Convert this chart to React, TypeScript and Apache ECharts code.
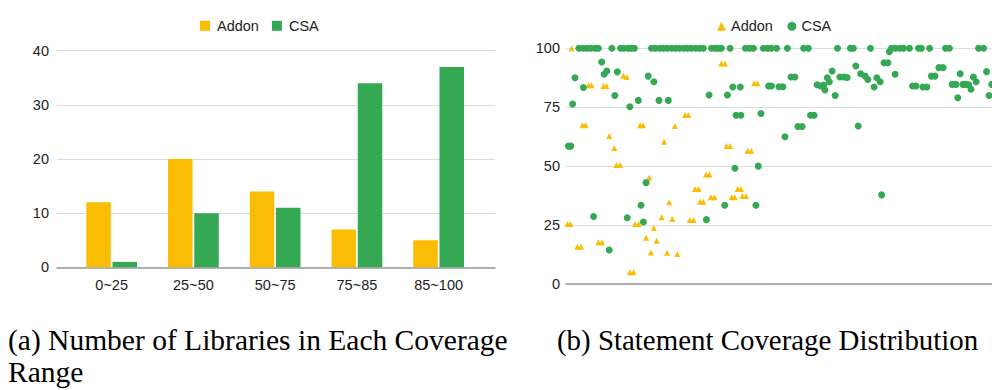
import React, { useEffect, useRef } from 'react';
import * as echarts from 'echarts';

// ---------- (a) bar chart data ----------
const categories = ['0~25', '25~50', '50~75', '75~85', '85~100'];
const addonCounts = [12, 20, 14, 7, 5];
const csaCounts = [1, 10, 11, 34, 37];
const barTicks = [0, 10, 20, 30, 40];

// ---------- (b) scatter data: [library index, statement coverage %] ----------
const addonPoints = [
  [1.9, 100], [7.5, 84.3], [8.5, 84.3], [12.5, 84.0], [13.5, 84.0], [19.1, 88.4], [20.2, 87.8],
  [5.5, 67.3], [6.5, 67.3], [24.7, 67.3], [25.7, 67.3], [36.3, 67.0], [39.7, 71.7], [40.8, 71.7],
  [14.4, 62.8], [16.1, 57.7], [32.7, 60.4], [53.5, 58.5], [54.7, 58.5], [60.5, 56.5], [61.7, 56.5],
  [51.8, 93.6], [53.0, 93.6], [62.7, 85.2], [63.8, 85.2], [16.8, 50.5], [18.0, 50.5], [27.7, 45.1],
  [46.7, 46.5], [47.8, 46.5], [43.0, 40.3], [44.2, 40.3], [57.2, 40.3], [58.3, 40.3], [34.4, 34.7],
  [44.7, 34.9], [45.8, 34.9], [48.3, 36.8], [49.5, 36.8], [55.2, 36.8], [56.3, 36.8], [58.8, 37.3],
  [60.0, 37.3], [0.5, 25.5], [1.5, 25.5], [23.0, 25.5], [24.2, 25.5], [31.9, 28.3], [35.4, 27.6],
  [41.3, 27.2], [42.5, 27.2], [29.3, 23.9], [3.8, 15.8], [5.0, 15.8], [10.8, 17.7], [12.0, 17.7],
  [26.7, 19.6], [30.2, 18.4], [28.3, 13.4], [33.7, 13.3], [37.1, 12.7], [21.3, 5.0], [22.5, 5.0],
];

const csaPoints = [
  // full coverage row
  [4.3, 100], [5.7, 100], [7.0, 100], [8.3, 100], [9.7, 100], [10.8, 100], [15.3, 100],
  [18.2, 100], [19.3, 100], [20.7, 100], [21.7, 100], [22.8, 100], [28.5, 100], [29.8, 100],
  [31.2, 100], [32.5, 100], [33.8, 100], [35.2, 100], [36.5, 100], [37.8, 100], [39.2, 100],
  [40.5, 100], [41.8, 100], [43.2, 100], [44.5, 100], [45.8, 100], [48.5, 100], [49.8, 100],
  [50.8, 100], [51.8, 100], [54.7, 100], [59.8, 100], [61.2, 100], [62.5, 100], [65.8, 100],
  [67.2, 100], [68.5, 100], [70.2, 100], [73.8, 100], [79.2, 100], [80.8, 100], [90.5, 100],
  [94.8, 100], [95.8, 100], [101.5, 100], [108.5, 100], [109.8, 100], [111.2, 100], [112.5, 100],
  [114.5, 100], [117.5, 100], [118.5, 100], [121.2, 100], [126.5, 100], [127.8, 100], [137.5, 100],
  [139.2, 100], [142.3, 100],
  // 60-99
  [11.9, 94.2], [3.0, 87.5], [5.8, 83.4], [12.7, 89.0], [13.6, 90.4], [17.1, 90.0], [16.3, 80.0],
  [2.2, 76.4], [21.3, 75.2], [24.1, 77.9], [27.4, 88.2], [29.3, 85.8], [31.0, 77.9], [34.1, 77.9],
  [47.7, 80.2], [53.8, 80.2], [55.6, 83.6], [58.1, 83.6], [67.5, 84.0], [68.5, 84.0], [56.7, 71.6],
  [58.3, 71.6], [65.0, 72.3], [71.0, 83.7], [72.3, 83.7], [75.0, 87.8], [76.3, 87.8], [83.7, 84.5],
  [84.9, 84.0], [85.9, 84.4], [86.3, 82.3], [87.1, 87.5], [87.8, 85.8], [88.7, 90.4], [89.7, 80.0],
  [91.3, 87.8], [92.7, 87.8], [93.7, 87.6], [96.6, 92.5], [98.2, 89.2], [99.7, 88.2], [100.6, 86.8],
  [102.7, 83.6], [103.6, 87.5], [104.7, 85.8], [81.5, 71.6], [82.7, 71.6], [77.3, 66.8], [78.7, 66.8],
  [97.4, 67.0], [73.0, 62.5], [107.8, 98.6], [106.0, 93.9], [107.3, 93.9], [109.7, 89.0],
  [115.5, 84.0], [116.7, 84.0], [119.0, 83.6], [120.3, 83.6], [121.8, 88.2], [123.0, 88.2],
  [124.3, 91.8], [125.7, 91.8], [128.7, 84.7], [130.0, 84.7], [131.4, 89.2], [132.3, 84.7],
  [133.3, 84.7], [134.2, 84.5], [135.0, 82.6], [130.6, 79.0], [135.8, 87.8], [136.7, 85.8],
  [140.2, 90.1], [141.0, 80.0], [141.9, 84.7],
  // below 60
  [0.8, 58.5], [1.6, 58.5], [56.3, 49.1], [64.1, 50.0], [26.7, 43.0], [25.0, 33.4], [52.9, 33.4],
  [63.3, 33.4], [105.2, 37.8], [9.2, 28.6], [20.4, 28.1], [25.8, 26.3], [46.8, 27.3], [14.4, 14.4],
];
const scatterTicks = [0, 25, 50, 75, 100];

const captionA1 = '(a) Number of Libraries in Each Coverage';
const captionA2 = 'Range';
const captionB = '(b) Statement Coverage Distribution';

const YELLOW = '#FBBC04';
const GREEN = '#34A853';
const TEXT = '#222222';
const GRID = '#dcdcdc';
const BASE = '#9a9a9a';
const FONT = '"Liberation Sans", Arial, sans-serif';
const SERIF = '"Liberation Serif", "Times New Roman", serif';

export default function App() {
  const ref = useRef<HTMLDivElement>(null);

  useEffect(() => {
    const chart = echarts.init(ref.current!, null, { renderer: 'svg' });
    const labelStyle = { color: TEXT, fontSize: 14.5, fontFamily: FONT };
    const capFontA = `29.5px ${SERIF}`;
    const capFontB = `28.9px ${SERIF}`;
    const option: any = {
      animation: false,
      backgroundColor: '#ffffff',
      textStyle: { fontFamily: FONT },
      legend: [
        {
          left: 200,
          top: 18.3,
          padding: 0,
          itemWidth: 10,
          itemHeight: 10,
          itemGap: 13,
          icon: 'rect',
          data: ['Addon', 'CSA'],
          textStyle: { ...labelStyle, padding: [0, 0, 0, 2] },
        },
        {
          left: 717,
          top: 18.8,
          padding: 0,
          itemWidth: 9,
          itemHeight: 9,
          itemGap: 14.5,
          data: [
            { name: 'Addon', icon: 'triangle' },
            { name: 'CSA', icon: 'circle' },
          ],
          textStyle: { ...labelStyle },
        },
      ],
      grid: [
        { left: 57, top: 50.7, width: 438, height: 216.6 },
        { left: 70.8, top: 50.7, width: 408.7, height: 216.6 },
        { left: 566, top: 48.3, width: 426, height: 235.7 },
      ],
      xAxis: [
        {
          gridIndex: 0,
          type: 'value',
          min: 0,
          max: 1,
          axisLine: { show: true, lineStyle: { color: BASE, width: 1.5 } },
          axisTick: { show: false },
          axisLabel: { show: false },
          splitLine: { show: false },
        },
        {
          gridIndex: 1,
          type: 'category',
          data: categories,
          axisLine: { show: false },
          axisTick: { show: false },
          axisLabel: { ...labelStyle, margin: 10, interval: 0 },
          splitLine: { show: false },
        },
        {
          gridIndex: 2,
          type: 'value',
          min: 0,
          max: 142,
          axisLine: { show: true, lineStyle: { color: BASE, width: 1.5 } },
          axisTick: { show: false },
          axisLabel: { show: false },
          splitLine: { show: false },
        },
      ],
      yAxis: [
        {
          gridIndex: 0,
          type: 'value',
          min: barTicks[0],
          max: barTicks[barTicks.length - 1],
          interval: 10,
          axisLine: { show: false },
          axisTick: { show: false },
          axisLabel: { ...labelStyle, margin: 8 },
          splitLine: { show: true, lineStyle: { color: GRID, width: 1 } },
        },
        {
          gridIndex: 1,
          type: 'value',
          min: barTicks[0],
          max: barTicks[barTicks.length - 1],
          show: false,
        },
        {
          gridIndex: 2,
          type: 'value',
          min: scatterTicks[0],
          max: scatterTicks[scatterTicks.length - 1],
          interval: 25,
          axisLine: { show: false },
          axisTick: { show: false },
          axisLabel: { ...labelStyle, margin: 6 },
          splitLine: { show: true, lineStyle: { color: GRID, width: 1 } },
        },
      ],
      series: [
        {
          name: 'Addon',
          type: 'bar',
          xAxisIndex: 1,
          yAxisIndex: 1,
          data: addonCounts,
          barWidth: 24.5,
          barGap: '7%',
          itemStyle: { color: YELLOW },
        },
        {
          name: 'CSA',
          type: 'bar',
          xAxisIndex: 1,
          yAxisIndex: 1,
          data: csaCounts,
          barWidth: 24.5,
          barGap: '7%',
          itemStyle: { color: GREEN },
        },
        {
          name: 'Addon',
          type: 'scatter',
          xAxisIndex: 2,
          yAxisIndex: 2,
          symbol: 'triangle',
          symbolSize: 6,
          clip: true,
          data: addonPoints,
          itemStyle: { color: YELLOW, opacity: 1 },
        },
        {
          name: 'CSA',
          type: 'scatter',
          xAxisIndex: 2,
          yAxisIndex: 2,
          symbol: 'circle',
          symbolSize: 7,
          clip: true,
          data: csaPoints,
          itemStyle: { color: GREEN, opacity: 1 },
        },
      ],
      graphic: [
        {
          type: 'text',
          x: 8,
          y: 339.5,
          style: { text: captionA1, font: capFontA, fill: '#000', verticalAlign: 'middle' },
        },
        {
          type: 'text',
          x: 8,
          y: 371.5,
          style: { text: captionA2, font: capFontA, fill: '#000', verticalAlign: 'middle' },
        },
        {
          type: 'text',
          x: 557,
          y: 339.5,
          style: { text: captionB, font: capFontB, fill: '#000', verticalAlign: 'middle' },
        },
      ],
    };
    chart.setOption(option);
    return () => chart.dispose();
  }, []);

  return (
    <div
      ref={ref}
      style={{ position: 'absolute', left: 0, top: 0, width: 992, height: 390 }}
    />
  );
}
